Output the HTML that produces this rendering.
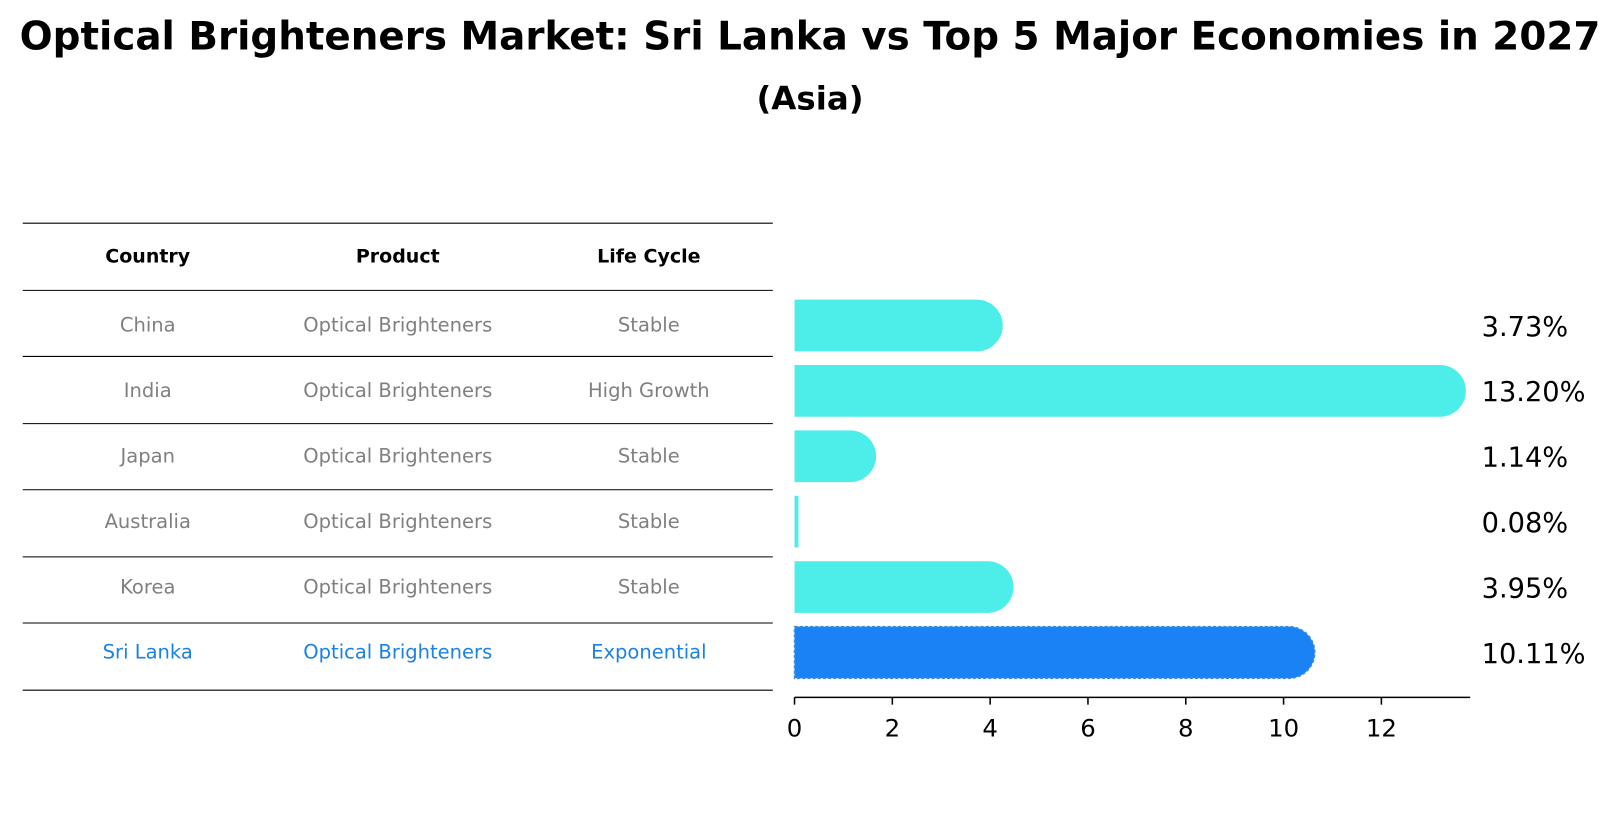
<!DOCTYPE html>
<html><head><meta charset="utf-8">
<style>
body{margin:0;background:#fff;font-family:"Liberation Sans","DejaVu Sans",sans-serif;}
svg text{font-family:"DejaVu Sans","Liberation Sans",sans-serif;}
</style></head>
<body>
<svg id="chart" width="1620" height="823" viewBox="0 0 1620 823" xmlns="http://www.w3.org/2000/svg">
<g transform="scale(1.0332)">
<text x="784" y="48" text-anchor="middle" font-size="37.6" font-weight="bold">Optical Brighteners Market: Sri Lanka vs Top 5 Major Economies in 2027</text>
<text x="784" y="106" text-anchor="middle" font-size="31.4" font-weight="bold">(Asia)</text>
<g id="table"></g>
<g id="bars"></g>
</g>
</svg>
<script>
const countries=["China","India","Japan","Australia","Korea","Sri Lanka"];
const products=["Optical Brighteners","Optical Brighteners","Optical Brighteners","Optical Brighteners","Optical Brighteners","Optical Brighteners"];
const lifeCycles=["Stable","High Growth","Stable","Stable","Stable","Exponential"];
const values=[3.73,13.20,1.14,0.08,3.95,10.11];
const valueLabels=["3.73%","13.20%","1.14%","0.08%","3.95%","10.11%"];
const xTicks=[0,2,4,6,8,10,12];
const NS="http://www.w3.org/2000/svg";
const x0=769,unit=(1337-769)/12;
function xs(v){return x0+v*unit;}
function ys(i){return 315+i*63.3;}
function mk(tag,attrs,parent){const e=document.createElementNS(NS,tag);for(const k in attrs)e.setAttribute(k,attrs[k]);parent.appendChild(e);return e;}
const tg=document.getElementById('table');
const lineYs=[216,281,345,410,474,539,603,668];
lineYs.forEach((y,i)=>{const l=mk('line',{x1:22,x2:748,y1:y,y2:y,stroke:'#000','stroke-width':1},tg);

});
const colX=[143,385,628];
["Country","Product","Life Cycle"].forEach((h,j)=>{const t=mk('text',{x:colX[j],y:254,'text-anchor':'middle','font-size':18.4,'font-weight':'bold'},tg);t.textContent=h;

});
countries.forEach((c,i)=>{const hl=i===countries.length-1;const col=hl?'#1a82e6':'#808080';
[c,products[i],lifeCycles[i]].forEach((s,j)=>{const t=mk('text',{x:colX[j],y:ys(i)+6,'text-anchor':'middle','font-size':18.9,fill:col},tg);t.textContent=s;

});});
const bg=document.getElementById('bars');
values.forEach((v,i)=>{const hl=i===values.length-1;const w=xs(v)-x0;const cy=ys(i);const h=50,top=cy-25;let d;
if(w<10){d=`M${x0},${top}h${Math.max(w,1)}v${h}h${-Math.max(w,1)}z`;}
else{const r=25,end=xs(v)+r;d=`M${x0},${top}H${end-r}A${r},${r} 0 0 1 ${end},${cy}A${r},${r} 0 0 1 ${end-r},${top+h}H${x0}Z`;}
const p=mk('path',{d:d,fill:hl?'#1a82f5':'#4deee9'},bg);
if(hl){p.setAttribute('stroke','#3a8fe0');p.setAttribute('stroke-dasharray','3,2');p.setAttribute('stroke-width','1.5');}


const t=mk('text',{x:1434,y:cy+10,'font-size':26.4},bg);t.textContent=valueLabels[i];

});
const ax=mk('line',{x1:x0,x2:1423,y1:675,y2:675,stroke:'#000','stroke-width':1.5},bg);


xTicks.forEach(v=>{const l=mk('line',{x1:xs(v),x2:xs(v),y1:675,y2:682,stroke:'#000','stroke-width':1.5},bg);


const t=mk('text',{x:xs(v),y:713,'text-anchor':'middle','font-size':23.6},bg);t.textContent=v;

});
</script>
</body></html>
